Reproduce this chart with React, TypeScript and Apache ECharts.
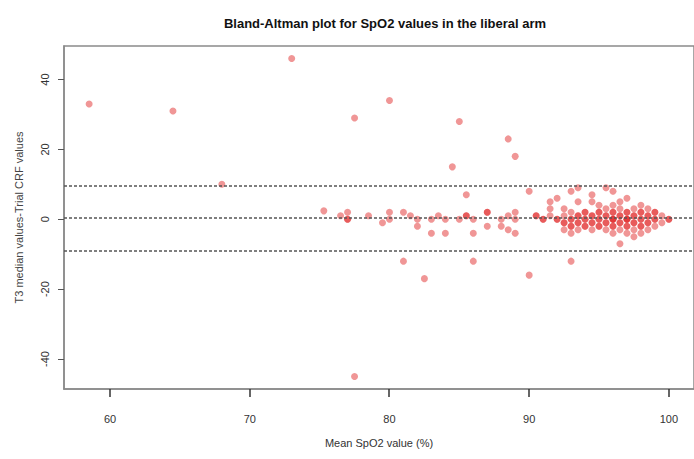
import React, { useEffect, useRef } from "react";
import * as echarts from "echarts";

// Mean of the two SpO2 readings (x) and their difference, T3 median minus trial CRF (y)
const spreadMeans = [
  58.5, 64.5, 68, 73, 75.3, 76.5, 77, 77, 77, 77.5, 77.5, 78.5, 79.5, 80, 80, 80,
  81, 81, 81.5, 82, 82, 82.5, 83, 83, 83.5, 84, 84, 84.5, 85, 85, 85.5, 85.5, 85.5,
  86, 86, 86, 87, 87, 87, 88, 88, 88.5, 88.5, 88.5, 89, 89, 89, 89, 90, 90, 90.5, 90.5,
  91, 91, 91.5, 91.5, 91.5,
];
const spreadDiffs = [
  33, 31, 10, 46, 2.4, 1, 2, 0, 0, 29, -45, 1, -1, 34, 2, 0,
  2, -12, 1, 0, -2, -17, 0, -4, 1, 0, -4, 15, 28, 0, 7, 1, 1,
  0, -4, -12, 2, 2, -2, 0, -2, 23, 1, -3, 18, 2, 0, -4, 8, -16, 1, 1,
  0, 0, 5, 3, 1,
];

const clusterMeans = [
  92, 92, 92,
  92.5, 92.5, 92.5, 92.5, 92.5,
  93, 93, 93, 93, 93, 93, 93, 93,
  93.5, 93.5, 93.5, 93.5, 93.5, 93.5, 93.5,
  94, 94, 94, 94, 94, 94,
  94.5, 94.5, 94.5, 94.5, 94.5, 94.5, 94.5,
  95, 95, 95, 95, 95, 95, 95,
  95.5, 95.5, 95.5, 95.5, 95.5, 95.5, 95.5,
  96, 96, 96, 96, 96, 96, 96, 96, 96, 96,
  96.5, 96.5, 96.5, 96.5, 96.5, 96.5, 96.5, 96.5,
  97, 97, 97, 97, 97, 97, 97, 97, 97,
  97.5, 97.5, 97.5, 97.5, 97.5, 97.5, 97.5,
  98, 98, 98, 98, 98, 98, 98, 98,
  98.5, 98.5, 98.5, 98.5, 98.5, 98.5,
  99, 99, 99, 99, 99,
  99.5, 99.5,
  100, 100,
];
const clusterDiffs = [
  6, 0, 0,
  3, 1, -1, -1, -3,
  8, 2, 0, 0, -2, -2, -4, -12,
  9, 5, 1, 1, -1, -1, -3,
  2, 2, 0, 0, -2, -2,
  7, 5, 1, 1, -1, -1, -3,
  4, 2, 2, 0, 0, -2, -2,
  9, 3, 1, 1, -1, -1, -3,
  8, 4, 2, 2, 0, 0, 0, -2, -2, -4,
  5, 3, 1, 1, -1, -1, -3, -7,
  6, 2, 2, 0, 0, 0, -2, -2, -4,
  3, 1, 1, -1, -1, -3, -5,
  4, 2, 2, 0, 0, -2, -2, -4,
  3, 1, 1, -1, -1, -3,
  2, 2, 0, 0, -2,
  1, -1,
  0, 0,
];

// Bias and 95% limits of agreement
const meanDifference = 0.3;
const upperLimit = 9.6;
const lowerLimit = -9.0;

const xTicks = [60, 70, 80, 90, 100];
const yTicks = [-40, -20, 0, 20, 40];

const titleText = "Bland-Altman plot for SpO2 values in the liberal arm";
const xTitle = "Mean SpO2 value (%)";
const yTitle = "T3 median values-Trial CRF values";

const X_MIN = 56.7;
const X_MAX = 101.8;
const Y_MIN = -48.6;
const Y_MAX = 49.6;

export default function App() {
  const ref = useRef<HTMLDivElement>(null);

  useEffect(() => {
    if (!ref.current) return;
    const chart = echarts.init(ref.current, undefined, { renderer: "svg" });

    const points: number[][] = [];
    spreadMeans.forEach((m, i) => points.push([m, spreadDiffs[i]]));
    clusterMeans.forEach((m, i) => points.push([m, clusterDiffs[i]]));

    const font = "'Liberation Sans', Arial, sans-serif";
    const frame = { color: "#8a8a8a", width: 1.5 };

    chart.setOption({
      animation: false,
      backgroundColor: "#ffffff",
      title: {
        text: titleText,
        left: 380,
        top: 12,
        textAlign: "center",
        textStyle: { fontFamily: font, fontSize: 13, fontWeight: "bold", color: "#111" },
      },
      grid: {
        left: 64,
        top: 46,
        right: -4,
        bottom: 70,
        show: true,
        borderColor: frame.color,
        borderWidth: frame.width,
        backgroundColor: "transparent",
      },
      xAxis: {
        type: "value",
        min: X_MIN,
        max: X_MAX,
        name: xTitle,
        nameLocation: "middle",
        nameGap: 48,
        nameTextStyle: { fontFamily: font, fontSize: 11, color: "#333" },
        axisLine: { show: true, onZero: false, lineStyle: frame },
        splitLine: { show: false },
        axisTick: { show: false },
        axisLabel: {
          customValues: xTicks,
          margin: 24,
          fontFamily: font,
          fontSize: 11,
          color: "#333",
        },
      },
      yAxis: {
        type: "value",
        min: Y_MIN,
        max: Y_MAX,
        name: yTitle,
        nameLocation: "middle",
        nameGap: 40,
        nameRotate: 90,
        nameTextStyle: { fontFamily: font, fontSize: 11, color: "#444" },
        axisLine: { show: true, onZero: false, lineStyle: frame },
        splitLine: { show: false },
        axisTick: {
          show: true,
          length: 6,
          customValues: yTicks,
          lineStyle: { color: "#555", width: 1 },
        },
        axisLabel: {
          customValues: yTicks,
          rotate: 90,
          margin: 14,
          fontFamily: font,
          fontSize: 11,
          color: "#333",
        },
      },
      series: [
        {
          type: "scatter",
          data: points,
          symbol: "circle",
          symbolSize: 7,
          itemStyle: { color: "rgba(220, 15, 15, 0.55)" },
          markLine: {
            silent: true,
            symbol: "none",
            label: { show: false },
            lineStyle: { color: "#555", width: 1.5, type: [3, 2] },
            data: [
              { yAxis: upperLimit },
              { yAxis: meanDifference },
              { yAxis: lowerLimit },
            ],
          },
        },
        {
          // x-axis tick marks hanging below the frame
          type: "custom",
          silent: true,
          clip: false,
          z: 10,
          data: xTicks.map((v) => [v, Y_MIN]),
          renderItem: (_params: any, api: any) => {
            const p = api.coord([api.value(0), api.value(1)]);
            return {
              type: "rect",
              shape: { x: Math.round(p[0]) - 0.75, y: p[1], width: 1.5, height: 8 },
              style: { fill: "#333" },
            };
          },
        },
      ],
    });

    return () => chart.dispose();
  }, []);

  return (
    <div
      ref={ref}
      style={{ position: "absolute", left: 0, top: 0, width: 694, height: 459 }}
    />
  );
}
